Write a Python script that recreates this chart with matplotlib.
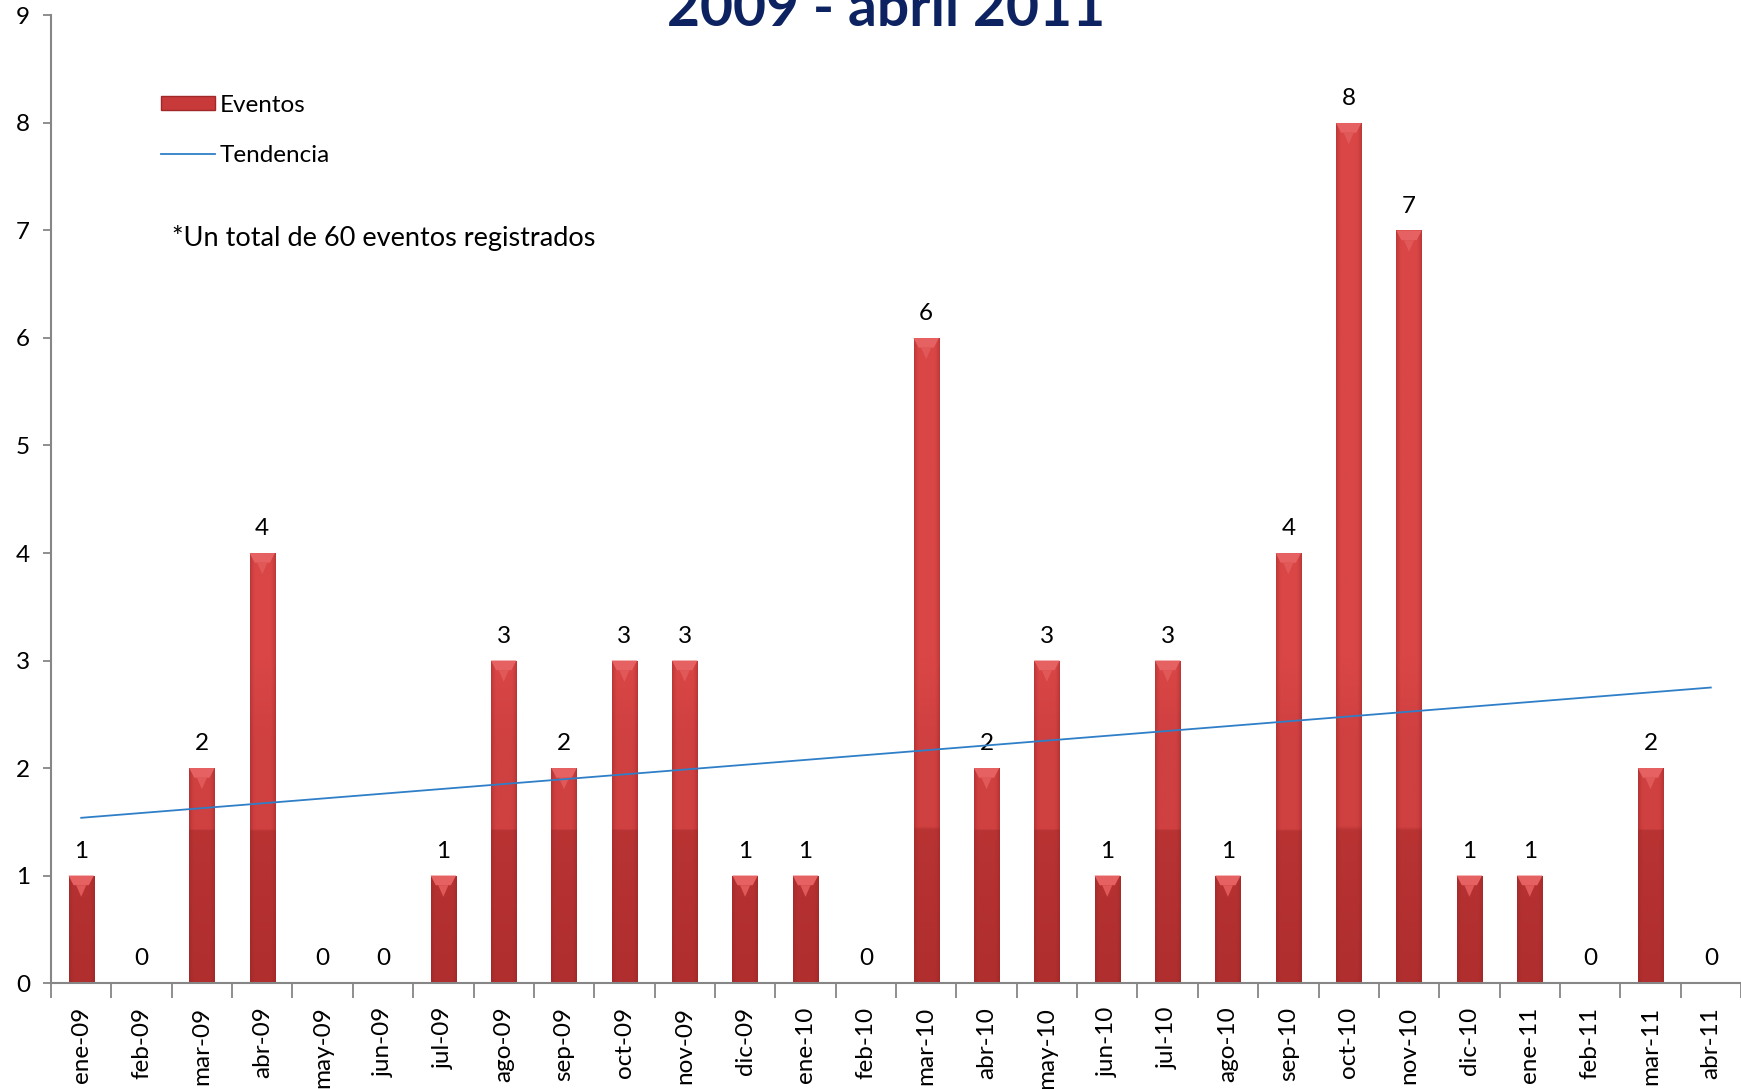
import numpy as np
import matplotlib
matplotlib.use("Agg")
import matplotlib.pyplot as plt
from matplotlib.patches import Polygon, Patch
from matplotlib.lines import Line2D
from matplotlib.colors import to_rgb

plt.rcParams['font.family'] = ['Lato', 'DejaVu Sans']

months = ["ene-09", "feb-09", "mar-09", "abr-09", "may-09", "jun-09", "jul-09",
          "ago-09", "sep-09", "oct-09", "nov-09", "dic-09", "ene-10", "feb-10",
          "mar-10", "abr-10", "may-10", "jun-10", "jul-10", "ago-10", "sep-10",
          "oct-10", "nov-10", "dic-10", "ene-11", "feb-11", "mar-11", "abr-11"]
eventos = [1, 0, 2, 4, 0, 0, 1, 3, 2, 3, 3, 1, 1, 0, 6, 2, 3, 1, 3, 1, 4, 8, 7, 1, 1, 0, 2, 0]
title_text = "2009 - abril 2011"
note_text = "*Un total de 60 eventos registrados"

fig = plt.figure(figsize=(17.41, 10.89), dpi=100)
ax = fig.add_axes([0.0293, 0.0973, 0.9707, 0.8885])

x = np.arange(len(months))
bars = ax.bar(x, eventos, width=0.42, color='#C03838', zorder=2)

# gradient fill for each bar
light = np.array(to_rgb('#DA4646'))
dark = np.array(to_rgb('#B02E2E'))
edge = np.array(to_rgb('#8E2222'))
for b in bars:
    h = b.get_height()
    if h <= 0:
        continue
    bx, bw = b.get_x(), b.get_width()
    ny = 200
    nx = 40
    yy = np.linspace(0, h, ny)[:, None]
    t = np.clip(yy / 3.0, 0, 1)
    t = np.where(yy > 1.42, np.maximum(t, 0.75), t * 0.45)
    base = dark[None, None, :] * (1 - t[..., None]) + light[None, None, :] * t[..., None]
    xs = np.linspace(-1, 1, nx)[None, :]
    e = np.clip((np.abs(xs) - 0.6) / 0.4, 0, 1) ** 1.5
    img = base * (1 - e[..., None] * 0.4) + edge[None, None, :] * (e[..., None] * 0.4)
    img = np.broadcast_to(img, (ny, nx, 3))
    im = ax.imshow(img, extent=(bx, bx + bw, 0, h), origin='lower', aspect='auto',
                   zorder=2.1, interpolation='bilinear')
    im.set_clip_path(b)
    # bevel top
    bev = 0.09
    poly = Polygon([(bx, h), (bx + bw, h), (bx + bw * 0.8, h - bev), (bx + bw * 0.2, h - bev)],
                   closed=True, facecolor='#E66262', edgecolor='none', zorder=2.2)
    ax.add_patch(poly)
    tri = Polygon([(bx + bw * 0.3, h - bev), (bx + bw * 0.7, h - bev), (bx + bw * 0.5, h - bev * 2.2)],
                  closed=True, facecolor='#E05858', edgecolor='none', zorder=2.2)
    ax.add_patch(tri)

# data labels
for xi, v in zip(x, eventos):
    ax.annotate(str(v), (xi, v), xytext=(0, 17.5), textcoords='offset points',
                ha='center', va='center', fontsize=17.5, color='black')

# trend line (least squares, like Excel's linear trendline)
coef = np.polyfit(x, eventos, 1)
trend = np.polyval(coef, x)
ax.plot(x, trend, color='#2F7FC8', lw=1.3, zorder=3)

ax.set_xlim(-0.5, len(months) - 0.5)
ax.set_ylim(0, 9)
ax.set_yticks(range(0, 10))
ax.set_xticks(np.arange(-0.5, len(months), 1.0))
ax.set_xticklabels([])
ax.set_xticks(x, minor=True)
ax.set_xticklabels(months, minor=True, rotation=90, fontsize=17.5)
ax.tick_params(axis='x', which='major', length=11, color='#868686', width=1.3, direction='out')
ax.tick_params(axis='x', which='minor', length=0, pad=17)
ax.tick_params(axis='y', length=6, color='#868686', width=1.3, labelsize=17.5, pad=9)
for s in ['top', 'right']:
    ax.spines[s].set_visible(False)
for s in ['left', 'bottom']:
    ax.spines[s].set_color('#868686')
    ax.spines[s].set_linewidth(1.5)

# legend
handles = [Patch(facecolor='#C83A3A', edgecolor='#A02828'),
           Line2D([0], [0], color='#2F7FC8', lw=1.3)]
leg = fig.legend(handles, ['Eventos', 'Tendencia'], loc='upper left',
                 bbox_to_anchor=(0.0925, 0.913), frameon=False, fontsize=17.5,
                 handlelength=2.2, handleheight=0.55, handletextpad=0.2,
                 labelspacing=1.2, borderpad=0, borderaxespad=0)

fig.text(0.0988, 0.7815, note_text, fontsize=19.5, va='center', ha='left')

fig.text(0.509, 0.976, title_text, fontsize=41, fontweight='bold', color='#0D2260',
         ha='center', va='baseline')

fig.savefig('out.png', dpi=100)
